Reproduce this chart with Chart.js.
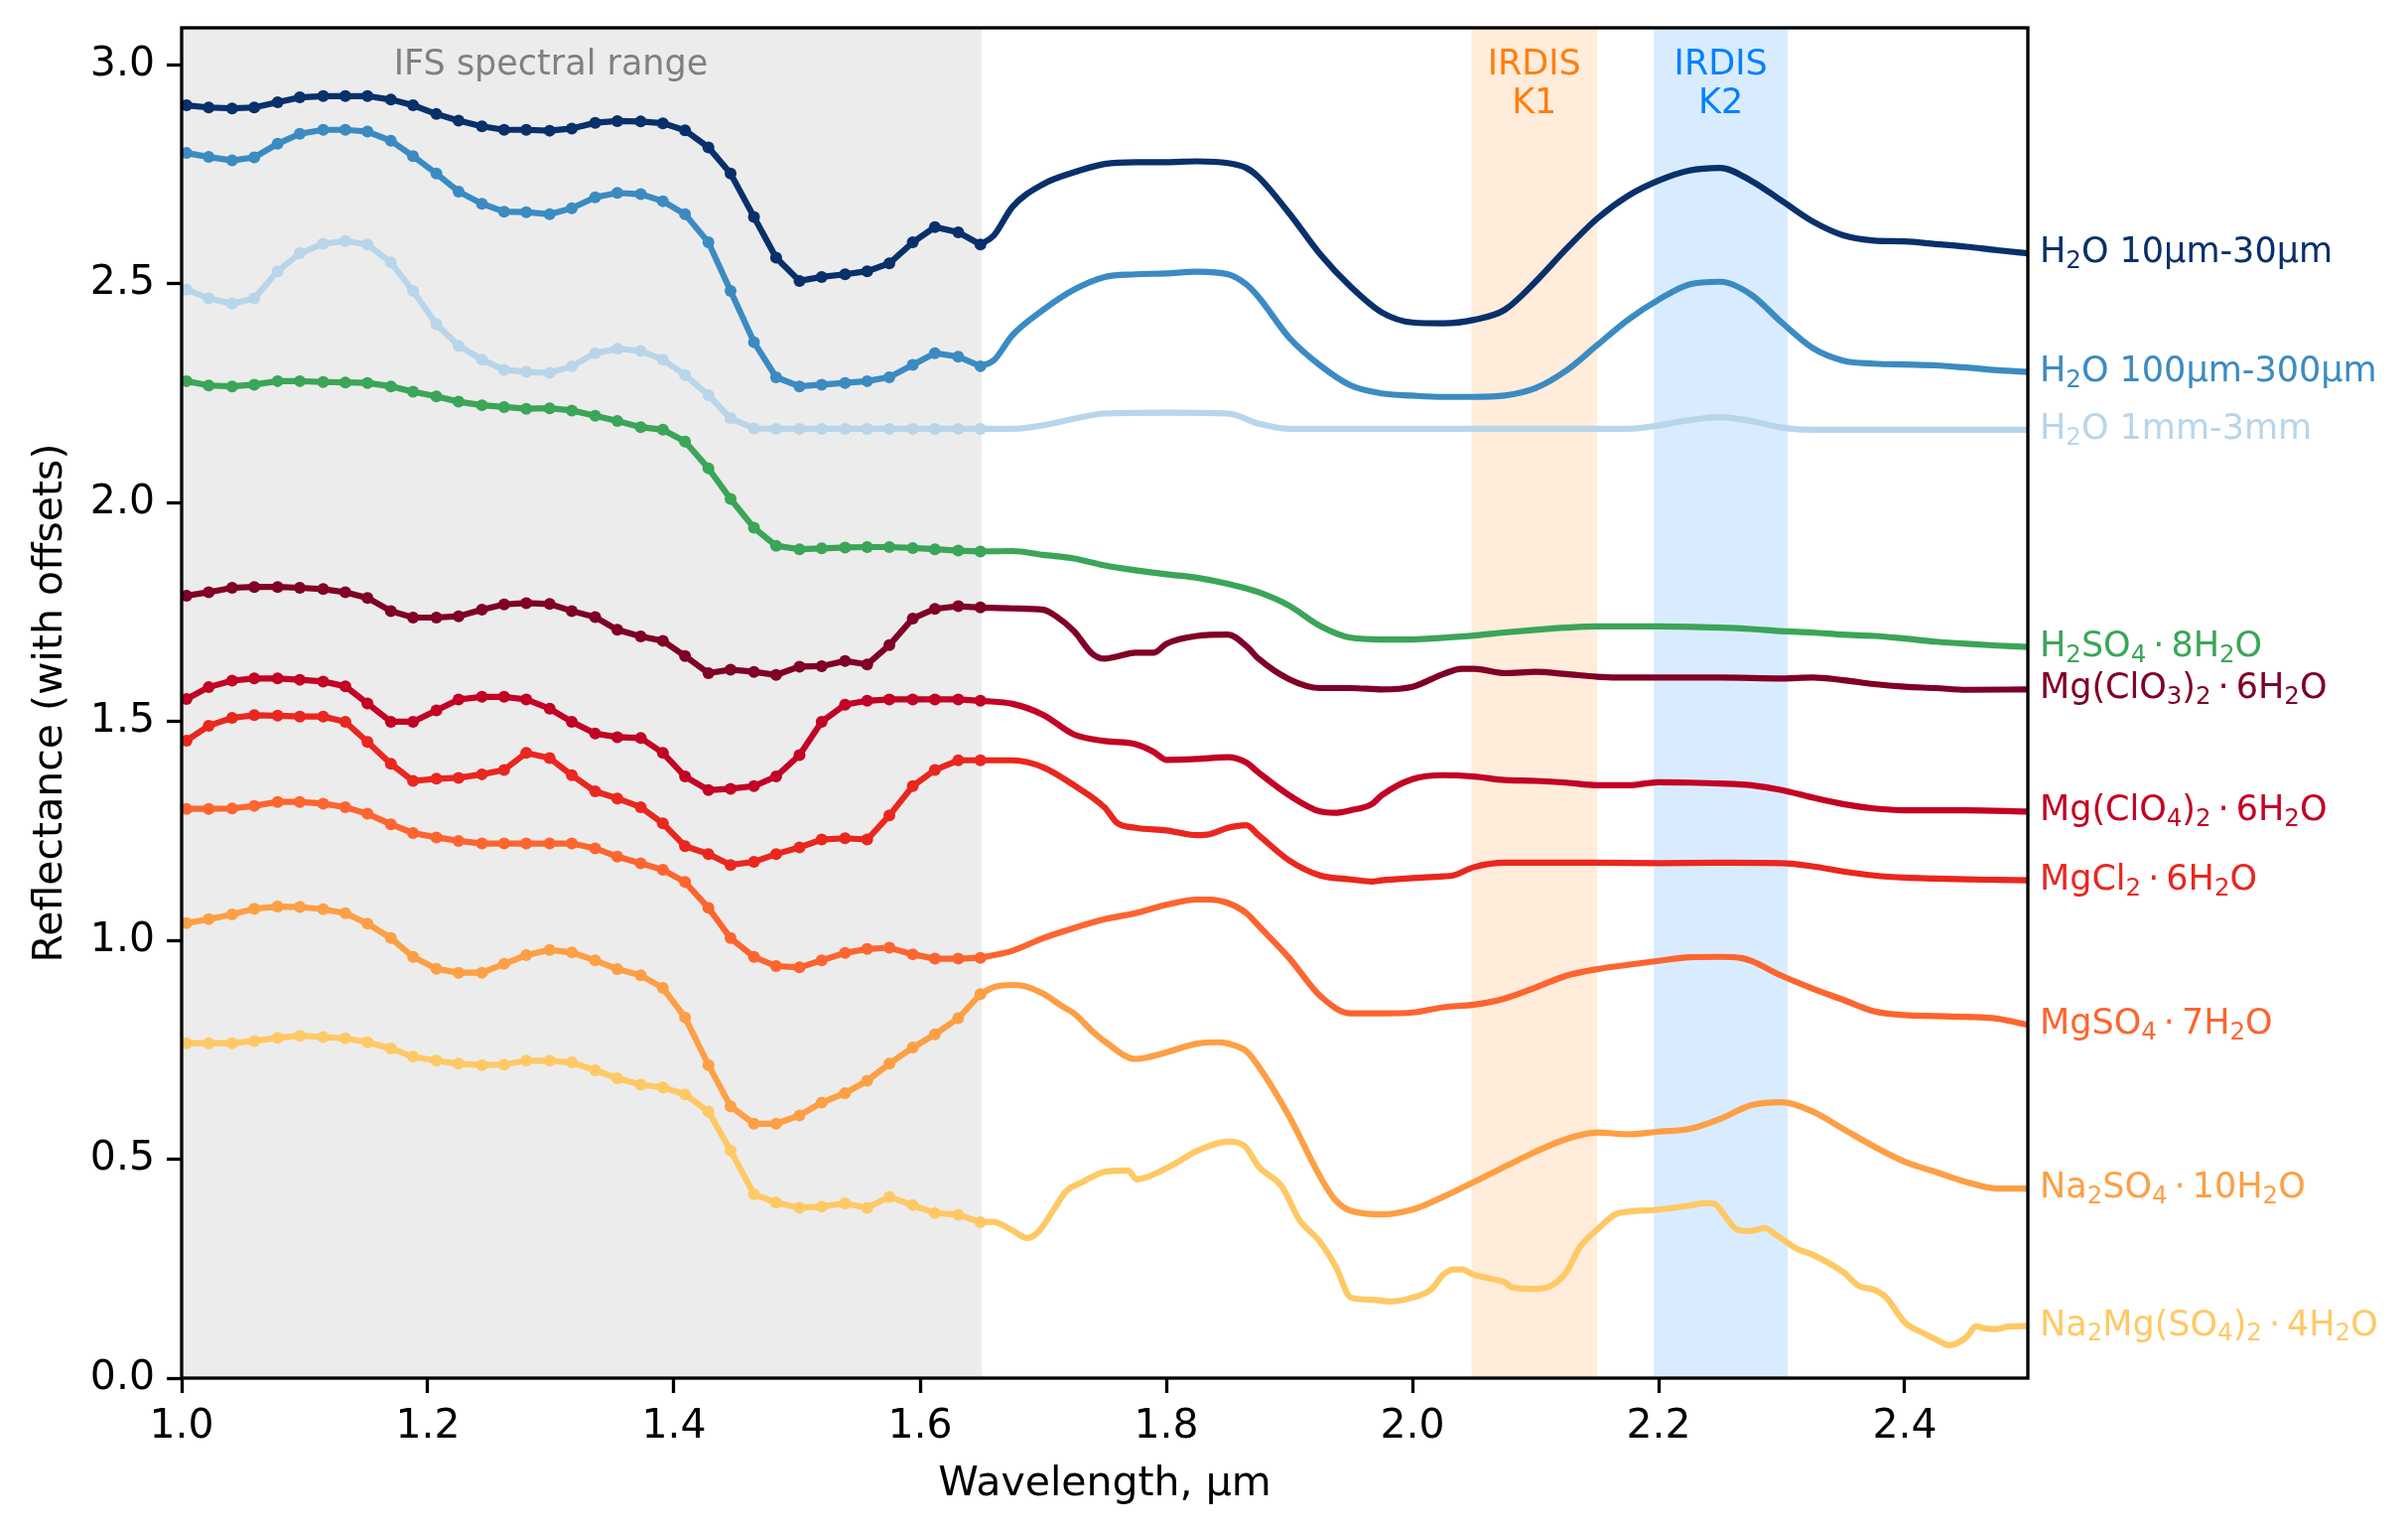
<!DOCTYPE html>
<html>
<head>
<meta charset="utf-8">
<script src="https://cdn.jsdelivr.net/npm/chart.js@4.4.1/dist/chart.umd.min.js"></script>
<style>
  html, body { margin: 0; padding: 0; background: #ffffff; }
  #wrap { width: 2426px; height: 1544px; }
</style>
</head>
<body>
<div id="wrap"><canvas id="c" width="2426" height="1544"></canvas></div>
<script>
// ---------------- DATA ----------------
// IFS-binned wavelengths (µm), shared by every series inside the grey IFS range
const ifsWl = [1.004, 1.022, 1.041, 1.059, 1.078, 1.096, 1.115, 1.133, 1.151, 1.170, 1.188, 1.207,
  1.225, 1.244, 1.262, 1.280, 1.299, 1.317, 1.336, 1.354, 1.373, 1.391, 1.409, 1.428,
  1.446, 1.465, 1.483, 1.502, 1.520, 1.539, 1.557, 1.575, 1.594, 1.612, 1.631, 1.649];

// Binned reflectances (with offsets) at ifsWl
const h2o1030Ifs = [2.907, 2.902, 2.900, 2.902, 2.914, 2.925, 2.928, 2.928, 2.928, 2.920, 2.907, 2.887, 2.872, 2.859, 2.851, 2.851, 2.849, 2.854, 2.867, 2.871, 2.870, 2.866, 2.850, 2.811, 2.751, 2.652, 2.559, 2.506, 2.515, 2.521, 2.528, 2.546, 2.594, 2.629, 2.617, 2.589];
const h2o100300Ifs = [2.798, 2.789, 2.781, 2.788, 2.819, 2.842, 2.851, 2.851, 2.847, 2.826, 2.791, 2.751, 2.710, 2.682, 2.664, 2.663, 2.658, 2.672, 2.697, 2.707, 2.704, 2.688, 2.658, 2.594, 2.483, 2.366, 2.286, 2.265, 2.269, 2.273, 2.277, 2.286, 2.314, 2.341, 2.333, 2.311];
const h2o13Ifs = [2.486, 2.466, 2.454, 2.466, 2.528, 2.569, 2.591, 2.597, 2.589, 2.548, 2.483, 2.407, 2.358, 2.326, 2.303, 2.298, 2.296, 2.311, 2.341, 2.351, 2.346, 2.326, 2.291, 2.245, 2.192, 2.169, 2.168, 2.168, 2.168, 2.168, 2.168, 2.168, 2.168, 2.168, 2.168, 2.168];
const h2so4Ifs = [2.277, 2.267, 2.265, 2.269, 2.277, 2.277, 2.275, 2.274, 2.273, 2.265, 2.253, 2.242, 2.230, 2.222, 2.218, 2.214, 2.215, 2.210, 2.198, 2.186, 2.172, 2.166, 2.139, 2.078, 2.008, 1.942, 1.901, 1.893, 1.895, 1.897, 1.898, 1.898, 1.896, 1.893, 1.890, 1.888];
const mgclo3Ifs = [1.787, 1.795, 1.805, 1.807, 1.807, 1.805, 1.802, 1.795, 1.782, 1.752, 1.737, 1.737, 1.740, 1.755, 1.767, 1.770, 1.768, 1.752, 1.738, 1.709, 1.694, 1.684, 1.649, 1.610, 1.618, 1.613, 1.606, 1.625, 1.626, 1.638, 1.630, 1.674, 1.735, 1.757, 1.763, 1.760];
const mgclo4Ifs = [1.551, 1.578, 1.593, 1.598, 1.598, 1.595, 1.591, 1.580, 1.541, 1.499, 1.499, 1.525, 1.550, 1.556, 1.556, 1.550, 1.529, 1.499, 1.472, 1.464, 1.462, 1.428, 1.374, 1.343, 1.346, 1.352, 1.374, 1.423, 1.499, 1.538, 1.547, 1.550, 1.550, 1.550, 1.550, 1.547];
const mgcl2Ifs = [1.456, 1.490, 1.508, 1.514, 1.513, 1.511, 1.511, 1.499, 1.453, 1.403, 1.364, 1.369, 1.371, 1.379, 1.389, 1.428, 1.416, 1.377, 1.340, 1.324, 1.304, 1.267, 1.215, 1.197, 1.172, 1.179, 1.197, 1.212, 1.230, 1.233, 1.230, 1.285, 1.352, 1.389, 1.411, 1.411];
const mgso4Ifs = [1.300, 1.300, 1.301, 1.307, 1.316, 1.316, 1.312, 1.304, 1.289, 1.265, 1.245, 1.235, 1.227, 1.221, 1.221, 1.221, 1.221, 1.221, 1.210, 1.191, 1.176, 1.161, 1.133, 1.074, 1.005, 0.962, 0.941, 0.938, 0.954, 0.971, 0.980, 0.983, 0.968, 0.958, 0.958, 0.960];
const na2so4Ifs = [1.039, 1.048, 1.059, 1.072, 1.077, 1.076, 1.071, 1.062, 1.038, 1.005, 0.962, 0.935, 0.926, 0.926, 0.946, 0.966, 0.978, 0.972, 0.954, 0.934, 0.920, 0.891, 0.824, 0.715, 0.621, 0.581, 0.581, 0.600, 0.629, 0.651, 0.679, 0.718, 0.755, 0.785, 0.822, 0.877];
const na2mgIfs = [0.765, 0.765, 0.765, 0.770, 0.777, 0.782, 0.779, 0.776, 0.767, 0.753, 0.734, 0.725, 0.718, 0.715, 0.716, 0.725, 0.725, 0.721, 0.703, 0.685, 0.670, 0.664, 0.648, 0.609, 0.520, 0.420, 0.401, 0.389, 0.392, 0.399, 0.389, 0.414, 0.395, 0.377, 0.373, 0.356];

// Full-resolution spectra beyond the IFS range (wavelength, reflectance)
const h2o1030Wl = [1.649, 1.660, 1.675, 1.70, 1.725, 1.75, 1.775, 1.80, 1.825, 1.85, 1.865, 1.875, 1.90, 1.925, 1.95, 1.975, 2.0, 2.025, 2.05, 2.075, 2.10, 2.125, 2.15, 2.175, 2.2, 2.225, 2.25, 2.275, 2.30, 2.325, 2.35, 2.375, 2.40, 2.425, 2.45, 2.475, 2.5];
const h2o1030Hi = [2.589, 2.610, 2.675, 2.727, 2.754, 2.773, 2.777, 2.777, 2.779, 2.775, 2.764, 2.743, 2.660, 2.567, 2.492, 2.434, 2.411, 2.409, 2.417, 2.440, 2.504, 2.579, 2.648, 2.700, 2.735, 2.758, 2.764, 2.735, 2.689, 2.642, 2.610, 2.598, 2.596, 2.590, 2.584, 2.576, 2.569];

const h2o100300Wl = [1.649, 1.660, 1.675, 1.70, 1.725, 1.75, 1.775, 1.80, 1.825, 1.85, 1.865, 1.875, 1.90, 1.925, 1.95, 1.975, 2.0, 2.025, 2.05, 2.075, 2.10, 2.125, 2.15, 2.175, 2.2, 2.225, 2.25, 2.275, 2.30, 2.325, 2.35, 2.375, 2.40, 2.425, 2.45, 2.475, 2.5];
const h2o100300Hi = [2.311, 2.325, 2.382, 2.440, 2.486, 2.515, 2.521, 2.523, 2.527, 2.521, 2.498, 2.469, 2.376, 2.313, 2.267, 2.249, 2.244, 2.241, 2.241, 2.244, 2.261, 2.301, 2.359, 2.417, 2.463, 2.498, 2.504, 2.475, 2.411, 2.353, 2.324, 2.317, 2.315, 2.313, 2.308, 2.302, 2.298];

const h2o13Wl = [1.649, 1.675, 1.70, 1.725, 1.75, 1.80, 1.85, 1.875, 1.90, 2.0, 2.1, 2.175, 2.2, 2.225, 2.25, 2.275, 2.3, 2.325, 2.4, 2.5];
const h2o13Hi = [2.168, 2.168, 2.176, 2.191, 2.203, 2.205, 2.203, 2.180, 2.168, 2.168, 2.168, 2.168, 2.176, 2.188, 2.195, 2.186, 2.171, 2.166, 2.166, 2.166];

const h2so4Wl = [1.649, 1.675, 1.70, 1.725, 1.75, 1.775, 1.80, 1.825, 1.85, 1.875, 1.90, 1.925, 1.95, 1.975, 2.0, 2.025, 2.05, 2.075, 2.10, 2.125, 2.15, 2.2, 2.25, 2.275, 2.30, 2.325, 2.35, 2.375, 2.40, 2.425, 2.45, 2.475, 2.5];
const h2so4Hi = [1.888, 1.889, 1.880, 1.872, 1.856, 1.845, 1.836, 1.828, 1.814, 1.795, 1.764, 1.718, 1.691, 1.687, 1.687, 1.691, 1.696, 1.703, 1.709, 1.714, 1.717, 1.717, 1.714, 1.711, 1.706, 1.703, 1.698, 1.695, 1.689, 1.682, 1.677, 1.673, 1.670];

const mgclo3Wl = [1.649, 1.675, 1.70, 1.71, 1.725, 1.74, 1.75, 1.76, 1.775, 1.79, 1.80, 1.825, 1.85, 1.865, 1.875, 1.90, 1.925, 1.95, 1.975, 2.0, 2.025, 2.04, 2.05, 2.075, 2.10, 2.125, 2.15, 2.175, 2.2, 2.25, 2.3, 2.325, 2.35, 2.375, 2.40, 2.425, 2.45, 2.5];
const mgclo3Hi = [1.760, 1.758, 1.755, 1.741, 1.706, 1.654, 1.643, 1.648, 1.657, 1.657, 1.677, 1.695, 1.698, 1.672, 1.643, 1.596, 1.576, 1.576, 1.573, 1.579, 1.608, 1.620, 1.620, 1.610, 1.613, 1.608, 1.602, 1.600, 1.600, 1.600, 1.598, 1.600, 1.594, 1.585, 1.579, 1.576, 1.572, 1.573];

const mgclo4Wl = [1.649, 1.675, 1.70, 1.725, 1.75, 1.775, 1.79, 1.80, 1.825, 1.85, 1.865, 1.875, 1.90, 1.925, 1.937, 1.95, 1.967, 1.975, 2.0, 2.025, 2.05, 2.075, 2.10, 2.125, 2.15, 2.175, 2.2, 2.225, 2.25, 2.275, 2.3, 2.325, 2.35, 2.375, 2.4, 2.45, 2.5];
const mgclo4Hi = [1.547, 1.540, 1.515, 1.470, 1.455, 1.448, 1.430, 1.412, 1.414, 1.418, 1.406, 1.383, 1.331, 1.294, 1.291, 1.297, 1.311, 1.331, 1.368, 1.377, 1.374, 1.366, 1.364, 1.360, 1.354, 1.354, 1.361, 1.360, 1.358, 1.354, 1.343, 1.326, 1.311, 1.301, 1.297, 1.297, 1.294];

const mgcl2Wl = [1.649, 1.675, 1.70, 1.725, 1.75, 1.76, 1.775, 1.80, 1.825, 1.835, 1.85, 1.865, 1.875, 1.90, 1.925, 1.95, 1.967, 1.975, 2.0, 2.025, 2.033, 2.05, 2.075, 2.10, 2.15, 2.2, 2.25, 2.3, 2.325, 2.35, 2.375, 2.40, 2.425, 2.45, 2.475, 2.5];
const mgcl2Hi = [1.411, 1.411, 1.395, 1.354, 1.303, 1.268, 1.257, 1.251, 1.240, 1.242, 1.257, 1.263, 1.240, 1.182, 1.148, 1.139, 1.134, 1.137, 1.142, 1.146, 1.148, 1.167, 1.177, 1.177, 1.177, 1.176, 1.177, 1.176, 1.169, 1.157, 1.148, 1.143, 1.141, 1.139, 1.138, 1.137];

const mgso4Wl = [1.649, 1.675, 1.70, 1.725, 1.75, 1.775, 1.80, 1.825, 1.835, 1.85, 1.865, 1.875, 1.90, 1.925, 1.95, 1.975, 2.0, 2.025, 2.05, 2.075, 2.10, 2.125, 2.15, 2.175, 2.2, 2.225, 2.25, 2.268, 2.275, 2.3, 2.325, 2.35, 2.375, 2.40, 2.425, 2.45, 2.475, 2.5];
const mgso4Hi = [0.960, 0.976, 1.005, 1.028, 1.048, 1.062, 1.081, 1.093, 1.093, 1.085, 1.062, 1.033, 0.959, 0.873, 0.833, 0.833, 0.835, 0.847, 0.853, 0.867, 0.892, 0.919, 0.934, 0.944, 0.953, 0.961, 0.962, 0.959, 0.953, 0.919, 0.890, 0.864, 0.838, 0.829, 0.827, 0.825, 0.821, 0.807];

const na2so4Wl = [1.649, 1.66, 1.675, 1.685, 1.70, 1.715, 1.725, 1.74, 1.75, 1.775, 1.80, 1.825, 1.842, 1.85, 1.865, 1.875, 1.90, 1.925, 1.937, 1.95, 1.975, 2.0, 2.025, 2.05, 2.075, 2.10, 2.125, 2.15, 2.175, 2.2, 2.225, 2.25, 2.275, 2.3, 2.325, 2.35, 2.375, 2.40, 2.425, 2.45, 2.475, 2.5];
const na2so4Hi = [0.877, 0.893, 0.898, 0.895, 0.878, 0.850, 0.833, 0.792, 0.769, 0.729, 0.744, 0.764, 0.767, 0.764, 0.747, 0.712, 0.597, 0.460, 0.408, 0.382, 0.374, 0.385, 0.414, 0.448, 0.483, 0.517, 0.546, 0.561, 0.557, 0.563, 0.569, 0.592, 0.623, 0.630, 0.609, 0.569, 0.529, 0.494, 0.471, 0.448, 0.433, 0.433];

const na2mgWl = [1.649, 1.659, 1.674, 1.687, 1.696, 1.710, 1.718, 1.732, 1.750, 1.769, 1.776, 1.787, 1.806, 1.825, 1.850, 1.864, 1.875, 1.894, 1.908, 1.925, 1.938, 1.950, 1.967, 1.982, 2.000, 2.015, 2.025, 2.033, 2.040, 2.050, 2.062, 2.075, 2.081, 2.100, 2.114, 2.125, 2.136, 2.150, 2.165, 2.175, 2.200, 2.225, 2.238, 2.246, 2.253, 2.264, 2.275, 2.286, 2.295, 2.312, 2.325, 2.350, 2.363, 2.375, 2.385, 2.400, 2.414, 2.425, 2.436, 2.450, 2.458, 2.466, 2.475, 2.484, 2.500];
const na2mgHi = [0.356, 0.357, 0.339, 0.320, 0.334, 0.391, 0.425, 0.448, 0.471, 0.474, 0.454, 0.462, 0.488, 0.519, 0.540, 0.529, 0.483, 0.437, 0.362, 0.311, 0.253, 0.184, 0.179, 0.175, 0.184, 0.202, 0.236, 0.248, 0.248, 0.236, 0.228, 0.219, 0.207, 0.204, 0.213, 0.242, 0.299, 0.339, 0.374, 0.380, 0.385, 0.394, 0.400, 0.397, 0.374, 0.339, 0.336, 0.343, 0.328, 0.296, 0.282, 0.242, 0.210, 0.202, 0.184, 0.127, 0.104, 0.089, 0.075, 0.093, 0.118, 0.113, 0.112, 0.118, 0.119];

// Series labels ("_" marks a subscript digit) and colours
const seriesLabels = ['H_2O 10µm-30µm', 'H_2O 100µm-300µm', 'H_2O 1mm-3mm', 'H_2SO_4·8H_2O',
  'Mg(ClO_3)_2·6H_2O', 'Mg(ClO_4)_2·6H_2O', 'MgCl_2·6H_2O', 'MgSO_4·7H_2O',
  'Na_2SO_4·10H_2O', 'Na_2Mg(SO_4)_2·4H_2O'];
const seriesColors = ['#08306b', '#3b8bc2', '#b8d5ea', '#3ba558', '#800026', '#c20325',
  '#e9271f', '#fc6530', '#fd9f44', '#fec965'];

// Axis ticks
const xTicks = [1.0, 1.2, 1.4, 1.6, 1.8, 2.0, 2.2, 2.4];
const yTicks = [0.0, 0.5, 1.0, 1.5, 2.0, 2.5, 3.0];

// Shaded spectral ranges [start, end] and their annotations
const bandRanges = [[1.0, 1.65], [2.048, 2.150], [2.196, 2.305]];
const bandFills = ['rgba(128,128,128,0.15)', 'rgba(255,127,14,0.15)', 'rgba(0,128,255,0.15)'];
const bandTexts = [['IFS spectral range'], ['IRDIS', 'K1'], ['IRDIS', 'K2']];
const bandTextX = [1.30, 2.099, 2.2505];
const bandTextColors = ['#808080', '#ff7f0e', '#0080ff'];

// ---------------- BUILD ----------------
const ifsSeries = [h2o1030Ifs, h2o100300Ifs, h2o13Ifs, h2so4Ifs, mgclo3Ifs, mgclo4Ifs, mgcl2Ifs, mgso4Ifs, na2so4Ifs, na2mgIfs];
const hiWl = [h2o1030Wl, h2o100300Wl, h2o13Wl, h2so4Wl, mgclo3Wl, mgclo4Wl, mgcl2Wl, mgso4Wl, na2so4Wl, na2mgWl];
const hiR = [h2o1030Hi, h2o100300Hi, h2o13Hi, h2so4Hi, mgclo3Hi, mgclo4Hi, mgcl2Hi, mgso4Hi, na2so4Hi, na2mgHi];

const FONT = '"DejaVu Sans"';
const LW = 6.2;
const datasets = [];
for (let i = 0; i < seriesLabels.length; i++) {
  datasets.push({
    label: seriesLabels[i] + ' (full resolution)',
    data: hiWl[i].map((w, k) => ({ x: w, y: hiR[i][k] })),
    borderColor: seriesColors[i], backgroundColor: seriesColors[i],
    borderWidth: LW, pointRadius: 0, pointHoverRadius: 0,
    cubicInterpolationMode: 'monotone', fill: false, order: 10 - i
  });
  datasets.push({
    label: seriesLabels[i] + ' (IFS)',
    data: ifsWl.map((w, k) => ({ x: w, y: ifsSeries[i][k] })),
    borderColor: seriesColors[i], backgroundColor: seriesColors[i],
    pointBackgroundColor: seriesColors[i], pointBorderWidth: 0,
    borderWidth: LW, pointRadius: 6, pointHoverRadius: 6,
    tension: 0, fill: false, order: 10 - i
  });
}

function drawRich(ctx, str, x, y, size, color) {
  ctx.save();
  ctx.fillStyle = color;
  ctx.textAlign = 'left';
  ctx.textBaseline = 'alphabetic';
  let cx = x;
  let run = '';
  const flush = () => {
    if (!run) return;
    ctx.font = size + 'px ' + FONT;
    ctx.fillText(run, cx, y);
    cx += ctx.measureText(run).width;
    run = '';
  };
  for (let i = 0; i < str.length; i++) {
    const ch = str[i];
    if (ch === '_') {
      flush();
      const s = str[++i];
      ctx.font = (size * 0.7) + 'px ' + FONT;
      ctx.fillText(s, cx, y + size * 0.17);
      cx += ctx.measureText(s).width;
    } else if (ch === '·') {
      flush();
      ctx.font = size + 'px ' + FONT;
      cx += size * 0.2;
      ctx.fillText(ch, cx, y);
      cx += ctx.measureText(ch).width + size * 0.2;
    } else {
      run += ch;
    }
  }
  flush();
  ctx.restore();
}

const decorPlugin = {
  id: 'decor',
  beforeDatasetsDraw(chart) {
    const { ctx, chartArea: a, scales: { x, y } } = chart;
    ctx.save();
    bandRanges.forEach((r, i) => {
      const x0 = x.getPixelForValue(r[0]);
      const x1 = x.getPixelForValue(r[1]);
      ctx.fillStyle = bandFills[i];
      ctx.fillRect(x0, a.top, x1 - x0, a.bottom - a.top);
    });
    const base = y.getPixelForValue(3.0) + 10;
    ctx.font = '35px ' + FONT;
    ctx.textAlign = 'center';
    ctx.textBaseline = 'alphabetic';
    bandTexts.forEach((lines, i) => {
      ctx.fillStyle = bandTextColors[i];
      const px = x.getPixelForValue(bandTextX[i]);
      lines.forEach((t, k) => ctx.fillText(t, px, base + k * 38.7));
    });
    ctx.restore();
  },
  afterDatasetsDraw(chart) {
    const { ctx, chartArea: a, scales: { y } } = chart;
    ctx.save();
    ctx.strokeStyle = '#000';
    ctx.lineWidth = 3.3;
    ctx.strokeRect(a.left, a.top, a.right - a.left, a.bottom - a.top);
    ctx.restore();
    seriesLabels.forEach((lab, i) => {
      const last = hiR[i][hiR[i].length - 1];
      const py = y.getPixelForValue(last);
      drawRich(ctx, lab, a.right + 12, py + 9, 35, seriesColors[i]);
    });
  }
};

Chart.defaults.font.family = FONT;
new Chart(document.getElementById('c'), {
  type: 'line',
  data: { datasets },
  options: {
    responsive: false,
    devicePixelRatio: 1,
    animation: false,
    events: [],
    layout: { padding: { left: 0, right: 383, top: 28, bottom: 0 } },
    plugins: { legend: { display: false }, tooltip: { enabled: false } },
    scales: {
      x: {
        type: 'linear', min: 1.0, max: 2.5,
        afterBuildTicks: s => { s.ticks = xTicks.map(v => ({ value: v })); },
        afterFit: s => { s.height = 156; s.paddingLeft = 0; s.paddingRight = 0; },
        ticks: { font: { size: 41 }, color: '#000', padding: 10, maxRotation: 0, autoSkip: false,
          callback: v => Number(v).toFixed(1) },
        grid: { display: true, drawOnChartArea: false, drawTicks: true, tickLength: 15, tickWidth: 3.3, tickColor: '#000' },
        border: { display: false },
        title: { display: true, text: 'Wavelength, µm', color: '#000', font: { size: 41 }, padding: { top: 0, bottom: 24 } }
      },
      y: {
        type: 'linear', min: 0, max: 3.084,
        afterBuildTicks: s => { s.ticks = yTicks.map(v => ({ value: v })); },
        afterFit: s => { s.width = 183; s.paddingTop = 0; s.paddingBottom = 0; },
        ticks: { font: { size: 41 }, color: '#000', padding: 12, autoSkip: false,
          callback: v => Number(v).toFixed(1) },
        grid: { display: true, drawOnChartArea: false, drawTicks: true, tickLength: 15, tickWidth: 3.3, tickColor: '#000' },
        border: { display: false },
        title: { display: true, text: 'Reflectance (with offsets)', color: '#000', font: { size: 41 }, padding: { top: 27, bottom: 0 } }
      }
    }
  },
  plugins: [decorPlugin]
});
</script>
</body>
</html>
